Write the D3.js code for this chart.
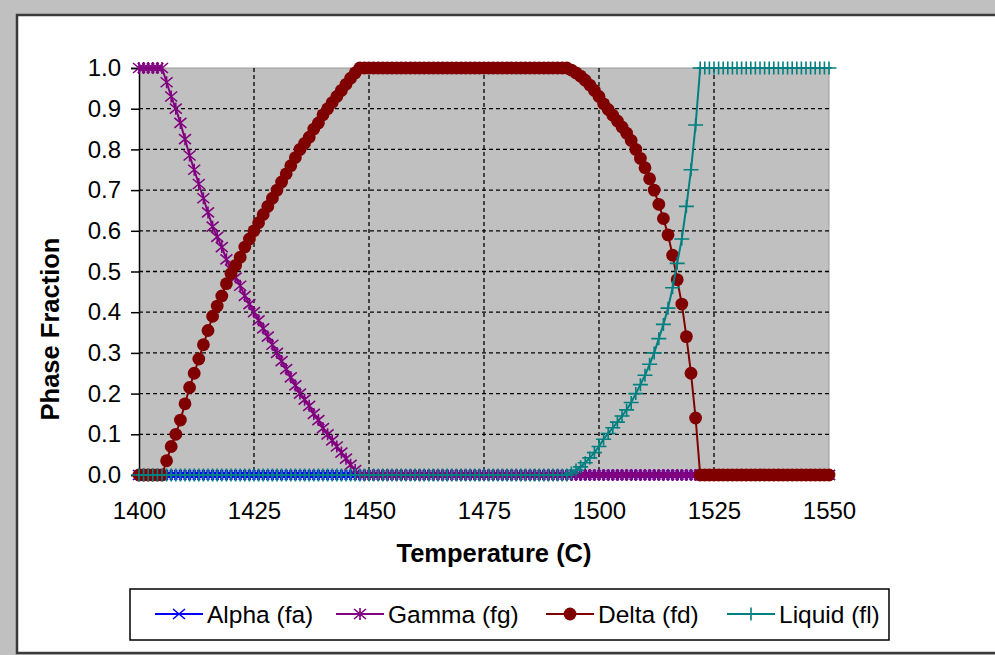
<!DOCTYPE html>
<html>
<head>
<meta charset="utf-8">
<script src="https://cdn.jsdelivr.net/npm/d3@7"></script>
<style>
  body { margin: 0; background: #c0c0c0; }
  svg { display: block; font-family: 'Liberation Sans', Arial, sans-serif; }
</style>
</head>
<body>
<div id="chart"></div>
<script>
// temperature (C), one reading per degree
const temperatures = [
  1400, 1401, 1402, 1403, 1404, 1405, 1406, 1407, 1408, 1409,
  1410, 1411, 1412, 1413, 1414, 1415, 1416, 1417, 1418, 1419,
  1420, 1421, 1422, 1423, 1424, 1425, 1426, 1427, 1428, 1429,
  1430, 1431, 1432, 1433, 1434, 1435, 1436, 1437, 1438, 1439,
  1440, 1441, 1442, 1443, 1444, 1445, 1446, 1447, 1448, 1449,
  1450, 1451, 1452, 1453, 1454, 1455, 1456, 1457, 1458, 1459,
  1460, 1461, 1462, 1463, 1464, 1465, 1466, 1467, 1468, 1469,
  1470, 1471, 1472, 1473, 1474, 1475, 1476, 1477, 1478, 1479,
  1480, 1481, 1482, 1483, 1484, 1485, 1486, 1487, 1488, 1489,
  1490, 1491, 1492, 1493, 1494, 1495, 1496, 1497, 1498, 1499,
  1500, 1501, 1502, 1503, 1504, 1505, 1506, 1507, 1508, 1509,
  1510, 1511, 1512, 1513, 1514, 1515, 1516, 1517, 1518, 1519,
  1520, 1521, 1522, 1523, 1524, 1525, 1526, 1527, 1528, 1529,
  1530, 1531, 1532, 1533, 1534, 1535, 1536, 1537, 1538, 1539,
  1540, 1541, 1542, 1543, 1544, 1545, 1546, 1547, 1548, 1549,
  1550,
];

const alpha = [
  0, 0, 0, 0, 0, 0, 0, 0, 0, 0,
  0, 0, 0, 0, 0, 0, 0, 0, 0, 0,
  0, 0, 0, 0, 0, 0, 0, 0, 0, 0,
  0, 0, 0, 0, 0, 0, 0, 0, 0, 0,
  0, 0, 0, 0, 0, 0, 0, 0, 0, 0,
  0, 0, 0, 0, 0, 0, 0, 0, 0, 0,
  0, 0, 0, 0, 0, 0, 0, 0, 0, 0,
  0, 0, 0, 0, 0, 0, 0, 0, 0, 0,
  0, 0, 0, 0, 0, 0, 0, 0, 0, 0,
  0, 0, 0, 0, 0, 0, 0, 0, 0, 0,
  0, 0, 0, 0, 0, 0, 0, 0, 0, 0,
  0, 0, 0, 0, 0, 0, 0, 0, 0, 0,
  0, 0, 0, 0, 0, 0, 0, 0, 0, 0,
  0, 0, 0, 0, 0, 0, 0, 0, 0, 0,
  0, 0, 0, 0, 0, 0, 0, 0, 0, 0,
  0,
];

const gamma = [
  1, 1, 1, 1, 1, 1, // 1400-1405
  0.965, 0.93, 0.9, 0.865, 0.825, 0.785, 0.75, 0.715, 0.68, 0.645, // 1406-1415
  0.61, 0.585, 0.56, 0.53, 0.505, 0.485, 0.465, 0.44, 0.42, 0.40, // 1416-1425
  0.38, 0.36, 0.34, 0.32, 0.30, 0.28, 0.26, 0.24, 0.22, 0.20, // 1426-1435
  0.185, 0.17, 0.15, 0.135, 0.115, 0.10, 0.085, 0.07, 0.055, 0.04, // 1436-1445
  0.025, 0.012, 0, // 1446-1448
  0, 0, 0, 0, 0, 0, 0, 0, 0, 0, // 1449-
  0, 0, 0, 0, 0, 0, 0, 0, 0, 0,
  0, 0, 0, 0, 0, 0, 0, 0, 0, 0,
  0, 0, 0, 0, 0, 0, 0, 0, 0, 0,
  0, 0, 0, 0, 0, 0, 0, 0, 0, 0,
  0, 0, 0, 0, 0, 0, 0, 0, 0, 0,
  0, 0, 0, 0, 0, 0, 0, 0, 0, 0,
  0, 0, 0, 0, 0, 0, 0, 0, 0, 0,
  0, 0, 0, 0, 0, 0, 0, 0, 0, 0,
  0, 0, 0, 0, 0, 0, 0, 0, 0, 0,
  0, 0, // -1550
];

const delta = [
  0, 0, 0, 0, 0, 0, // 1400-1405
  0.035, 0.07, 0.1, 0.135, 0.175, 0.215, 0.25, 0.285, 0.32, 0.355, // 1406-1415
  0.39, 0.415, 0.44, 0.47, 0.495, 0.515, 0.535, 0.56, 0.58, 0.60, // 1416-1425
  0.62, 0.64, 0.66, 0.68, 0.70, 0.72, 0.74, 0.76, 0.78, 0.80, // 1426-1435
  0.815, 0.83, 0.85, 0.865, 0.885, 0.90, 0.915, 0.93, 0.945, 0.96, // 1436-1445
  0.975, 0.988, 1, // 1446-1448
  1, 1, 1, 1, 1, 1, 1, 1, 1, 1, // 1449-1458
  1, 1, 1, 1, 1, 1, 1, 1, 1, 1,
  1, 1, 1, 1, 1, 1, 1, 1, 1, 1,
  1, 1, 1, 1, 1, 1, 1, 1, 1, 1,
  1, 1, 1, 1, 1, // 1489-1493
  0.995, 0.988, 0.98, 0.97, 0.958, 0.945, 0.93, 0.912, 0.898, 0.884, // 1494-1503
  0.87, 0.855, 0.84, 0.822, 0.80, 0.778, 0.755, 0.728, 0.70, 0.665, // 1504-1513
  0.63, 0.59, 0.54, 0.48, 0.42, 0.34, 0.25, 0.14, // 1514-1521
  0, 0, 0, 0, 0, 0, 0, 0, 0, 0, // 1522-
  0, 0, 0, 0, 0, 0, 0, 0, 0, 0,
  0, 0, 0, 0, 0, 0, 0, 0, 0, // -1550
];

const liquid = [
  0, 0, 0, 0, 0, 0, 0, 0, 0, 0, // 1400-
  0, 0, 0, 0, 0, 0, 0, 0, 0, 0,
  0, 0, 0, 0, 0, 0, 0, 0, 0, 0,
  0, 0, 0, 0, 0, 0, 0, 0, 0, 0,
  0, 0, 0, 0, 0, 0, 0, 0, 0, 0,
  0, 0, 0, 0, 0, 0, 0, 0, 0, 0,
  0, 0, 0, 0, 0, 0, 0, 0, 0, 0,
  0, 0, 0, 0, 0, 0, 0, 0, 0, 0,
  0, 0, 0, 0, 0, 0, 0, 0, 0, 0,
  0, 0, 0, 0, // -1493
  0.005, 0.012, 0.02, 0.03, 0.042, 0.055, 0.07, 0.088, 0.102, 0.116, // 1494-1503
  0.13, 0.145, 0.16, 0.178, 0.20, 0.222, 0.245, 0.272, 0.30, 0.335, // 1504-1513
  0.37, 0.41, 0.46, 0.52, 0.58, 0.66, 0.75, 0.86, // 1514-1521
  1, 1, 1, 1, 1, 1, 1, 1, 1, 1, // 1522-
  1, 1, 1, 1, 1, 1, 1, 1, 1, 1,
  1, 1, 1, 1, 1, 1, 1, 1, 1, // -1550
];

const xTicks = [1400, 1425, 1450, 1475, 1500, 1525, 1550];
const yTicks = [0, 0.1, 0.2, 0.3, 0.4, 0.5, 0.6, 0.7, 0.8, 0.9, 1.0];

const series = [
  { name: 'Alpha (fa)', values: alpha, color: '#0000ff', marker: 'x' },
  { name: 'Gamma (fg)', values: gamma, color: '#800080', marker: 'star' },
  { name: 'Delta (fd)', values: delta, color: '#800000', marker: 'circle' },
  { name: 'Liquid (fl)', values: liquid, color: '#008080', marker: 'plus' },
];

const width = 995;
const height = 655;
const plot = { left: 139, right: 829, top: 68, bottom: 475 };

const svg = d3.select('#chart')
  .append('svg')
  .attr('width', width)
  .attr('height', height);

// window frame
svg.append('rect')
  .attr('width', width).attr('height', height)
  .attr('fill', '#c0c0c0');
svg.append('rect')
  .attr('x', 17).attr('y', 15)
  .attr('width', width).attr('height', 638)
  .attr('fill', '#fff')
  .attr('stroke', '#3a3a3a')
  .attr('stroke-width', 2.5);

const x = d3.scaleLinear().domain([1400, 1550]).range([plot.left, plot.right]);
const y = d3.scaleLinear().domain([0, 1]).range([plot.bottom, plot.top]);

svg.append('rect')
  .attr('x', plot.left).attr('y', plot.top)
  .attr('width', plot.right - plot.left)
  .attr('height', plot.bottom - plot.top)
  .attr('fill', '#c0c0c0');
svg.append('path')
  .attr('d', `M${plot.left},${plot.top}H${plot.right}V${plot.bottom}`)
  .attr('fill', 'none')
  .attr('stroke', '#9a9a9a')
  .attr('stroke-width', 1);

// dashed grid
const grid = svg.append('g')
  .attr('stroke', '#000')
  .attr('stroke-width', 1.3)
  .attr('stroke-dasharray', '4,3');
grid.selectAll('line.v')
  .data(xTicks.slice(1, -1))
  .enter().append('line')
  .attr('class', 'v')
  .attr('x1', d => x(d)).attr('x2', d => x(d))
  .attr('y1', plot.top).attr('y2', plot.bottom);
grid.selectAll('line.h')
  .data(yTicks.slice(1, -1))
  .enter().append('line')
  .attr('class', 'h')
  .attr('x1', plot.left).attr('x2', plot.right)
  .attr('y1', d => y(d)).attr('y2', d => y(d));

// axes
const yAxis = d3.axisLeft(y)
  .tickValues(yTicks)
  .tickFormat(d3.format('.1f'))
  .tickSize(8)
  .tickPadding(10);
const gy = svg.append('g')
  .attr('transform', `translate(${plot.left},0)`)
  .call(yAxis);
gy.select('.domain').attr('stroke', '#000').attr('stroke-width', 1.5);
gy.selectAll('.tick line').attr('stroke', '#000').attr('stroke-width', 1.5);
gy.selectAll('.tick text')
  .attr('font-size', 24)
  .attr('font-family', 'Liberation Sans, Arial, sans-serif')
  .attr('fill', '#000');

const xAxis = d3.axisBottom(x)
  .tickValues(xTicks)
  .tickFormat(d3.format('d'))
  .tickSize(0)
  .tickPadding(27);
const gx = svg.append('g')
  .attr('transform', `translate(0,${plot.bottom})`)
  .call(xAxis);
gx.select('.domain').attr('stroke', '#000').attr('stroke-width', 1.5);
gx.selectAll('.tick text')
  .attr('font-size', 24)
  .attr('font-family', 'Liberation Sans, Arial, sans-serif')
  .attr('fill', '#000');

svg.append('text')
  .attr('x', 494).attr('y', 562)
  .attr('text-anchor', 'middle')
  .attr('font-size', 25.5)
  .attr('font-weight', 'bold')
  .text('Temperature (C)');

svg.append('text')
  .attr('transform', 'translate(59,329) rotate(-90)')
  .attr('text-anchor', 'middle')
  .attr('font-size', 25.5)
  .attr('font-weight', 'bold')
  .text('Phase Fraction');

function markerPath(type, cx, cy) {
  if (type === 'x') {
    return `M${cx - 6},${cy - 5}L${cx + 6},${cy + 5}M${cx - 6},${cy + 5}L${cx + 6},${cy - 5}`;
  }
  if (type === 'star') {
    return `M${cx - 6},${cy - 5}L${cx + 6},${cy + 5}M${cx - 6},${cy + 5}L${cx + 6},${cy - 5}`
      + `M${cx},${cy - 6}L${cx},${cy + 6}`;
  }
  return `M${cx - 7.5},${cy}L${cx + 7.5},${cy}M${cx},${cy - 6.5}L${cx},${cy + 6.5}`;
}

function drawMarker(g, s, cx, cy) {
  if (s.marker === 'circle') {
    g.append('circle')
      .attr('cx', cx).attr('cy', cy).attr('r', 6.4)
      .attr('fill', s.color);
  } else {
    g.append('path')
      .attr('d', markerPath(s.marker, cx, cy))
      .attr('fill', 'none')
      .attr('stroke', s.color)
      .attr('stroke-width', 1.6);
  }
}

const line = d3.line()
  .x(d => x(d.t))
  .y(d => y(d.v));

series.forEach((s) => {
  const points = temperatures.map((t, i) => ({ t, v: s.values[i] }));
  const g = svg.append('g').attr('class', 'series');
  g.append('path')
    .datum(points)
    .attr('d', line)
    .attr('fill', 'none')
    .attr('stroke', s.color)
    .attr('stroke-width', 2);
  points.forEach(p => drawMarker(g, s, x(p.t), y(p.v)));
});

// legend
const legend = svg.append('g');
legend.append('rect')
  .attr('x', 130).attr('y', 589)
  .attr('width', 759).attr('height', 51)
  .attr('fill', '#fff')
  .attr('stroke', '#000')
  .attr('stroke-width', 1.5);

const legendX = [155, 336, 546, 727];
series.forEach((s, i) => {
  const lx = legendX[i];
  const ly = 614;
  const item = legend.append('g');
  item.append('line')
    .attr('x1', lx).attr('x2', lx + 48)
    .attr('y1', ly).attr('y2', ly)
    .attr('stroke', s.color)
    .attr('stroke-width', 2);
  drawMarker(item, s, lx + 24, ly);
  item.append('text')
    .attr('x', lx + 52).attr('y', ly)
    .attr('dy', '0.35em')
    .attr('font-size', 24.5)
    .text(s.name);
});
</script>
</body>
</html>
